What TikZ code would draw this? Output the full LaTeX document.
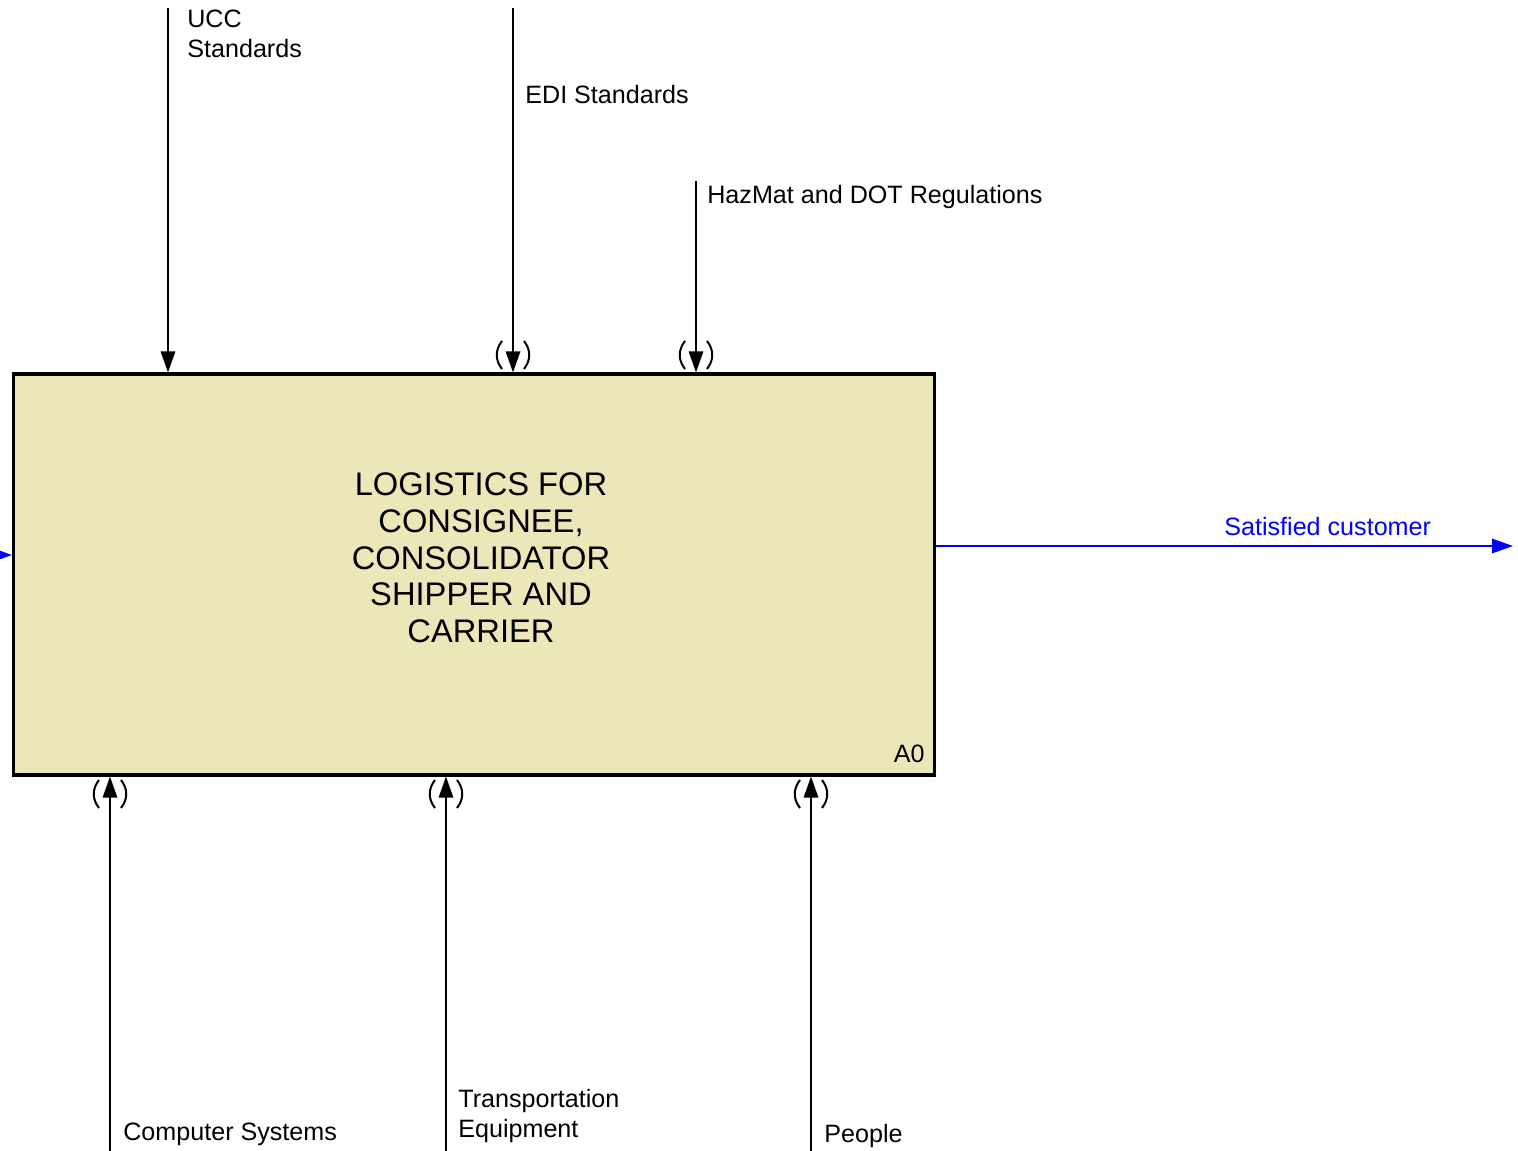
\documentclass[tikz,border=0pt]{standalone}
\usepackage{fontspec}
\setmainfont{Liberation Sans}
\usetikzlibrary{arrows.meta,calc,positioning}

\definecolor{boxfill}{RGB}{236,231,185}
\definecolor{flowblue}{RGB}{0,0,255}

\begin{document}
\begin{tikzpicture}[x=0.02cm, y=-0.02cm,
    every node/.style={font=\fontsize{14.3}{17.1}\selectfont, inner sep=0pt},
    arr/.style={line width=0.03cm, -{Triangle[length=0.42cm, width=0.29cm]}},
    flow/.style={arr, flowblue},
    paren/.style={line width=0.04cm},
    tunnel/.pic={
        \draw[paren] (-11,-14) .. controls (-18,-5) and (-18,5) .. (-11,14);
        \draw[paren] (11,-14) .. controls (18,-5) and (18,5) .. (11,14);
    }]
    \useasboundingbox (0,0) rectangle (1518,1151);
    % Activity box
    \node[draw, line width=0.065cm, fill=boxfill, minimum width=18.42cm,
          minimum height=8.02cm] (a0) at (474,574.5) {};
    \node[font=\fontsize{18.6}{20.9}\selectfont, align=center] (title) at (481,558)
        {LOGISTICS FOR\\CONSIGNEE,\\CONSOLIDATOR\\SHIPPER AND\\CARRIER};
    \node[anchor=base east] (num) at (925,763) {A0};
    % Controls
    \coordinate (ucc) at (168,8);
    \coordinate (edi) at (513,8);
    \coordinate (haz) at (696,181);
    \draw[arr] (ucc) -- (ucc |- a0.north);
    \draw[arr] (edi) -- (edi |- a0.north);
    \draw[arr] (haz) -- (haz |- a0.north);
    \node[anchor=north west, align=left] (ucclbl) at (187,10) {UCC\\Standards};
    \node[anchor=base west] (edilbl) at (525,104) {EDI Standards};
    \node[anchor=base west] (hazlbl) at (707,204) {HazMat and DOT Regulations};
    \foreach \x in {513,696} {
        \pic at (\x,355) {tunnel};
    }
    % Mechanisms
    \coordinate (comp) at (110,1151);
    \coordinate (trans) at (446,1151);
    \coordinate (peop) at (811,1151);
    \draw[arr] (comp) -- (comp |- a0.south);
    \draw[arr] (trans) -- (trans |- a0.south);
    \draw[arr] (peop) -- (peop |- a0.south);
    \node[anchor=base west] (complbl) at (123,1140) {Computer Systems};
    \node[anchor=north west, align=left] (translbl) at (458,1089) {Transportation\\Equipment};
    \node[anchor=base west] (peoplbl) at (824,1142) {People};
    \foreach \x in {110,446,811} {
        \pic at (\x,794) {tunnel};
    }
    % Input and output
    \coordinate (in) at (-10,555);
    \coordinate (out) at (1513,546);
    \draw[flow] (in) -- (in -| a0.west);
    \draw[flow] (a0.east |- out) -- (out);
    \node[anchor=base west, text=flowblue] (outlbl) at (1224,536) {Satisfied customer};
\end{tikzpicture}
\end{document}
